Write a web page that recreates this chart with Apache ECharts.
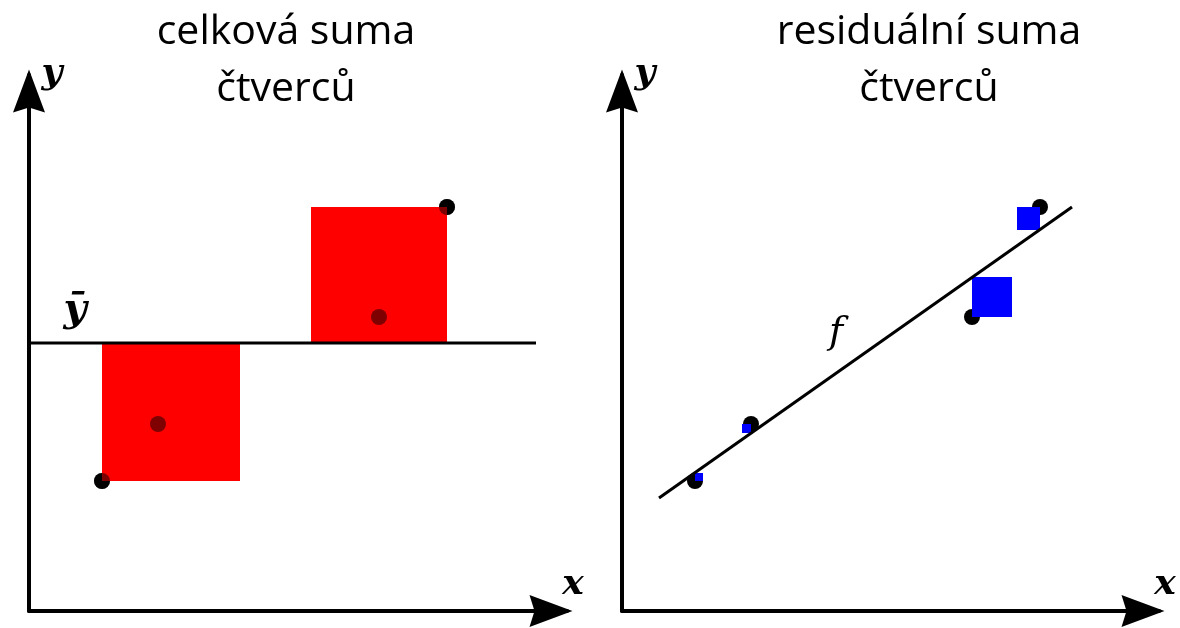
<!DOCTYPE html>
<html lang="cs">
<head>
<meta charset="utf-8">
<title>celková a residuální suma čtverců</title>
<script src="https://cdn.jsdelivr.net/npm/echarts@6/dist/echarts.min.js"></script>
<style>
  html, body { margin: 0; padding: 0; background: #fff; }
  #chart { width: 1180px; height: 628px; }
</style>
</head>
<body>
<div id="chart"></div>
<script>
// schematic units: 1 unit = 1 px on both axes, so the squares stay square
const pointX = [73, 129, 350, 418];
const pointY = [130, 187, 294, 404];
const meanY = 268;
const meanLineX = [0, 507];
const fitLineX = [37, 450];
const fitLineY = [113, 404];
const fittedY = [138, 178, 334, 381];
const panelTitles = ['celková suma\nčtverců', 'residuální suma\nčtverců'];

const chart = echarts.init(document.getElementById('chart'));

const ARROW = 'path://M16,0L32,43L16,38L0,43Z';
const points = pointX.map((x, i) => [x, pointY[i]]);
// square from the point to the reference value (mean or fitted line)
const totalSquares = pointX.map((x, i) => [x, pointY[i], x + (meanY - pointY[i]), meanY]);
const residSquares = pointX.map((x, i) => [x, pointY[i], x + (fittedY[i] - pointY[i]), fittedY[i]]);

function renderSquare(params, api) {
  const a = api.coord([api.value(0), api.value(1)]);
  const b = api.coord([api.value(2), api.value(3)]);
  return {
    type: 'rect',
    shape: {
      x: Math.min(a[0], b[0]), y: Math.min(a[1], b[1]),
      width: Math.abs(b[0] - a[0]), height: Math.abs(b[1] - a[1])
    },
    style: { fill: api.visual('color') }
  };
}

function axisLine() {
  return {
    show: true, onZero: false,
    symbol: ['none', ARROW], symbolSize: [32, 43], symbolOffset: [0, -16],
    lineStyle: { color: '#000', width: 4 }
  };
}
const nameFont = { fontFamily: 'DejaVu Serif', fontStyle: 'italic', fontWeight: 'bold', fontSize: 36, color: '#000' };

function xAxis(gridIndex, max) {
  return {
    type: 'value', gridIndex: gridIndex, min: 0, max: max,
    name: 'x', nameLocation: 'end', nameGap: 6,
    nameTextStyle: Object.assign({ align: 'center', verticalAlign: 'bottom', padding: [0, 0, 8, 0] }, nameFont),
    axisLine: axisLine(), axisTick: { show: false }, axisLabel: { show: false }, splitLine: { show: false }
  };
}
function yAxis(gridIndex, max) {
  return {
    type: 'value', gridIndex: gridIndex, min: 0, max: max,
    name: 'y', nameLocation: 'end', nameGap: 1,
    nameTextStyle: Object.assign({ align: 'center', verticalAlign: 'middle', padding: [0, 0, 0, 46] }, nameFont),
    axisLine: axisLine(), axisTick: { show: false }, axisLabel: { show: false }, splitLine: { show: false }
  };
}

const titleStyle = { fontFamily: 'Open Sans', fontSize: 41, fontWeight: 'normal', color: '#000', lineHeight: 57 };

const option = {
  animation: false,
  backgroundColor: '#fff',
  title: [
    { text: panelTitles[0], left: 286, top: 4, padding: 0, textAlign: 'center', textStyle: titleStyle },
    { text: panelTitles[1], left: 929, top: 4, padding: 0, textAlign: 'center', textStyle: titleStyle }
  ],
  grid: [
    { left: 29, top: 75, width: 538, height: 536, outerBoundsMode: 'none' },
    { left: 622, top: 75, width: 537, height: 536, outerBoundsMode: 'none' }
  ],
  xAxis: [xAxis(0, 538), xAxis(1, 537)],
  yAxis: [yAxis(0, 536), yAxis(1, 536)],
  graphic: [
    { type: 'text', x: 75, y: 311, style: { text: 'ȳ', font: 'italic bold 40px "DejaVu Serif"', fill: '#000', align: 'center', verticalAlign: 'middle' } },
    { type: 'text', x: 836, y: 333, style: { text: 'f', font: 'italic 38px "DejaVu Serif"', fill: '#000', align: 'center', verticalAlign: 'middle' } }
  ],
  series: [
    // celková suma čtverců
    {
      type: 'scatter', xAxisIndex: 0, yAxisIndex: 0, z: 3,
      symbolSize: 16, itemStyle: { color: '#000', opacity: 1 }, data: points
    },
    {
      type: 'custom', xAxisIndex: 0, yAxisIndex: 0, z: 4,
      renderItem: renderSquare, itemStyle: { color: '#ff0000' },
      encode: { x: [0, 2], y: [1, 3] }, data: totalSquares
    },
    {
      type: 'scatter', xAxisIndex: 0, yAxisIndex: 0, z: 5, silent: true,
      symbolSize: 16, itemStyle: { color: '#000', opacity: 0.5 }, data: points
    },
    {
      type: 'line', xAxisIndex: 0, yAxisIndex: 0, z: 6,
      symbol: 'none', lineStyle: { color: '#000', width: 3 },
      data: meanLineX.map(x => [x, meanY])
    },
    // residuální suma čtverců
    {
      type: 'scatter', xAxisIndex: 1, yAxisIndex: 1, z: 3,
      symbolSize: 16, itemStyle: { color: '#000', opacity: 1 }, data: points
    },
    {
      type: 'custom', xAxisIndex: 1, yAxisIndex: 1, z: 4,
      renderItem: renderSquare, itemStyle: { color: '#0000ff' },
      encode: { x: [0, 2], y: [1, 3] }, data: residSquares
    },
    {
      type: 'line', xAxisIndex: 1, yAxisIndex: 1, z: 6,
      symbol: 'none', lineStyle: { color: '#000', width: 3 },
      data: fitLineX.map((x, i) => [x, fitLineY[i]])
    }
  ]
};

chart.setOption(option);
window.onresize = function () { chart.resize(); };
</script>
</body>
</html>
